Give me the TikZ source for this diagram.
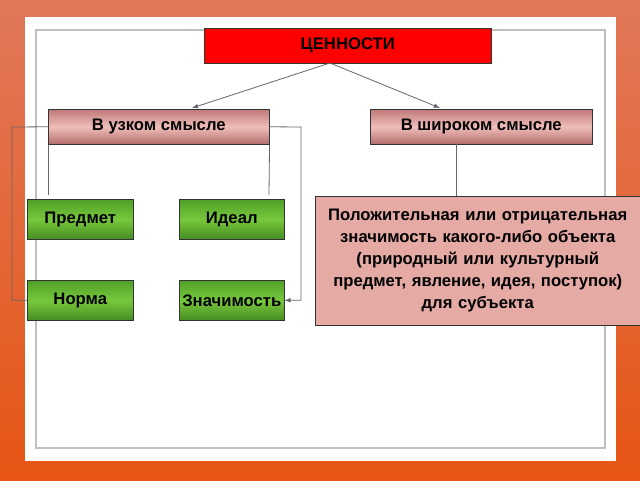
\documentclass[tikz,border=0pt]{standalone}
\usepackage{fontspec}
\setmainfont{Liberation Sans}
\begin{document}
\begin{tikzpicture}[x=0.75pt,y=-0.75pt,
  box/.style={draw=black!80,inner sep=0pt,font=\bfseries\fontsize{12.5}{15}\selectfont},
  green/.style={box,top color={rgb,255:red,80;green,160;blue,40},bottom color={rgb,255:red,70;green,140;blue,35},middle color={rgb,255:red,120;green,200;blue,60}},
  pinkb/.style={box,top color={rgb,255:red,190;green,120;blue,120},bottom color={rgb,255:red,180;green,110;blue,110},middle color={rgb,255:red,240;green,190;blue,185}},
  ln/.style={draw=black!60,line width=0.6pt},
  arr/.style={ln,-latex}]
\useasboundingbox (0,0) rectangle (640,480);
\shade[top color={rgb,255:red,225;green,120;blue,90}, middle color={rgb,255:red,215;green,105;blue,80}, bottom color={rgb,255:red,230;green,85;blue,20}] (0,0) rectangle (640,480);
\fill[white] (25,17) rectangle (616,461);
\draw[black!25,line width=1pt] (36,30) rectangle (605,448);
\node[box,fill=red,minimum width=287*0.75pt,minimum height=35*0.75pt,anchor=north west] (cen) at (204,28) {ЦЕННОСТИ};
\node[pinkb,minimum width=221*0.75pt,minimum height=35*0.75pt,anchor=north west] (uz) at (48,109) {В узком смысле};
\node[pinkb,minimum width=222*0.75pt,minimum height=35*0.75pt,anchor=north west] (sh) at (370,109) {В широком смысле};
\node[green,minimum width=106*0.75pt,minimum height=40*0.75pt,anchor=north west] (pr) at (27,199) {Предмет};
\node[green,minimum width=105*0.75pt,minimum height=40*0.75pt,anchor=north west] (id) at (179,199) {Идеал};
\node[green,minimum width=106*0.75pt,minimum height=40*0.75pt,anchor=north west] (no) at (27,280) {Норма};
\node[green,minimum width=105*0.75pt,minimum height=40*0.75pt,anchor=north west] (zn) at (179,280) {Значимость};
\node[box,fill={rgb,255:red,230;green,170;blue,165},minimum width=325*0.75pt,minimum height=129*0.75pt,anchor=north west,
  text width=320*0.75pt,align=center,font=\bfseries\fontsize{12.5}{16.5}\selectfont] (big) at (315,196)
  {Положительная или отрицательная\\ значимость какого-либо объекта\\ (природный или культурный\\ предмет, явление, идея, поступок)\\ для субъекта};
\coordinate (c0) at (330,63);
\draw[arr] (c0) -- (192,108);
\draw[arr] (c0) -- (440,108);
\draw[ln] (uz.west) -- (12,127) |- (no.west);
\draw[arr] (uz.east) -- (301,127) |- (zn.east);
\draw[ln] (uz.south west) -- (48,195);
\draw[ln] (uz.south east) -- (269,195);
\draw[ln] (456,144) -- (big.north -| 456,0);
\end{tikzpicture}
\end{document}
